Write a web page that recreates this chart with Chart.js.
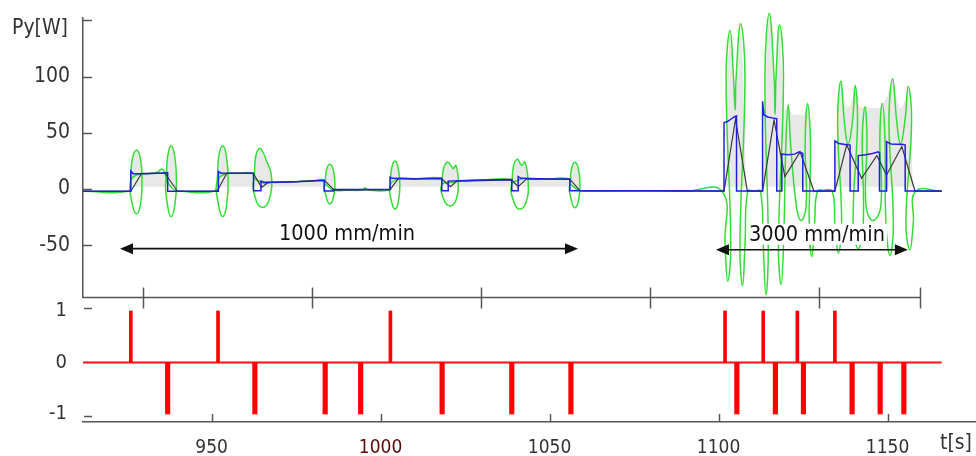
<!DOCTYPE html>
<html><head><meta charset="utf-8">
<script src="https://cdn.jsdelivr.net/npm/chart.js@4.4.0/dist/chart.umd.min.js"></script>
<style>
html,body{margin:0;padding:0;background:#fff;}
#wrap{position:relative;width:976px;height:456px;overflow:hidden;background:#fff;}
canvas{position:absolute;left:0;}
#cTop{top:0;z-index:2;}
#cBot{top:296px;z-index:1;}
</style></head><body>
<div id="wrap"><canvas id="cBot" width="976" height="160"></canvas><canvas id="cTop" width="976" height="312"></canvas></div>
<script>
// ---------- data (time in s, power in W) ----------
const bluePower = [
[911.95,-2],[926.1,-2],[926.1,16],[926.8,13.5],[930,13.5],[934,14],[937.0,14.5],[937.0,-2],
[952.0,-2],[952.0,15.5],[952.8,14],[962.4,14],[962.4,-1.5],[964.6,-1.5],[964.6,7],[965.5,6],[970,6],[975,6.5],[980,7],[983.3,7.5],[983.3,-1.8],[986.0,-1.8],[986.0,-0.5],
[1002.8,-0.5],[1002.8,10.5],[1003.5,9.5],[1010,9],[1018.1,9.5],[1018.1,-1.5],[1020.0,-1.5],[1020.0,7],[1025,7.5],[1030,8],[1038.8,8.5],[1038.8,-1.5],[1040.7,-1.5],[1040.7,11],[1041.5,9.5],[1050,9],[1056.0,9],[1056.0,-1.5],[1080,-1.5],
[1101.6,-1.8],[1101.6,59],[1102.6,60],[1103.6,62],[1104.6,64],[1105.3,65],[1105.3,-1.8],
[1113.0,-1.8],[1113.0,78],[1113.4,66],[1114.5,64],[1116.2,63],[1117.2,62.5],[1117.2,-1.8],[1118.7,-1.8],[1118.7,31],[1120.5,30.5],[1122.5,31],[1123.8,33],[1124.9,31.5],[1124.9,-1.8],
[1134.4,-1.8],[1134.4,42.7],[1135.5,40.5],[1137.5,39.5],[1138.9,39],[1138.9,-1.8],[1141.3,-1.8],[1141.3,29.7],[1143.5,30.5],[1145.5,31.5],[1147.3,33],[1147.6,32],[1147.6,-1.8],[1149.7,-1.8],[1149.7,42.1],[1151.0,40],[1154.7,39.5],[1155.2,39],[1155.2,-1.8],[1166.0,-1.8]
];
const blackPower = [
[911.95,-2],[926.1,-2],[929.3,14],[936.2,14],[939.9,-2],[951.6,-2],[954.5,14],[962.3,14],[964.8,1.5],[966.8,6],[975,6.5],[983.3,8],[986.3,-1],
[1002.8,-0.5],[1005.3,9.5],[1018.1,9],[1020.7,2],[1022.5,7],[1030,7.5],[1038.8,8],[1040.7,2],[1043.2,9],[1056.0,8.5],[1059.0,-1.5],
[1101.6,-1.8],[1105.0,62],[1108.5,-1.8],[1113.0,-1.8],[1116.4,61.4],[1119.6,11],[1124.1,33],[1128.2,-1.8],
[1134.4,-1.8],[1137.9,39.2],[1142.3,9.5],[1146.8,29.7],[1149.7,12.5],[1154.2,37.7],[1158.1,-1.8],[1166.0,-1.8]
];
const greenPower = [
[911.95,-2],[925.3,-2],
[926.0,7],[926.5,26],[927.8,34.7],[929.0,26],[929.4,7],[929.0,-13],[927.8,-22],[926.5,-13],[926.0,7],[928.3,13],[931,13.5],[934,15],[935.2,17.5],[936.2,14.5],
[936.5,7],[937.0,29],[938.0,38.5],[939.1,29],[939.6,7],[939.1,-15],[938.0,-24.5],[937.0,-15],[936.5,7],[938.6,0],[940.6,-2],[950.6,-2],
[951.6,7],[952.1,29],[953.3,38.5],[954.4,29],[954.9,7],[954.4,-15],[953.3,-24.5],[952.1,-15],[951.6,7],[954.4,13.5],[958,14],[962.0,14],
[962.5,8],[963.0,28],[964.1,36.1],[965.3,32],[966.3,24.3],[967.5,15.4],[967.8,2],[966.8,-11.3],[965.3,-16.3],[963.3,-11.3],[962.5,8],[965.5,5],[967.5,5.5],[970,6],[975,6.5],[980,7.5],[983.2,8],
[983.5,4],[984.0,17],[985.0,22],[986.0,17],[986.5,4],[986.0,-8],[985.0,-13.3],[984.0,-8],[983.5,4],[986.0,-1],[990,-1],[994.5,-1],[995.4,0.8],[996.3,-1],[1002.4,-1],
[1002.8,3.5],[1003.3,19],[1004.3,25],[1005.2,19],[1005.7,3.5],[1005.2,-12],[1004.3,-17.8],[1003.3,-12],[1002.8,3.5],[1005.3,9],[1010,9],[1017.8,9.5],
[1018.1,4],[1018.6,18],[1019.8,23.7],[1021.0,20],[1021.5,18],[1022.3,21],[1023.0,5],[1022.3,-10],[1020.6,-15],[1018.8,-10],[1018.1,4],[1021.5,6],[1023.8,7],[1030,8],[1038.5,8.5],
[1038.8,4],[1039.3,20],[1040.5,26.4],[1041.7,21],[1042.7,24],[1043.7,4],[1043.0,-12],[1041.2,-18],[1039.5,-12],[1038.8,4],[1042.0,9],[1044.5,9],[1050,9],[1055.7,9],
[1056.0,3.5],[1056.5,18],[1057.5,23.7],[1058.5,18],[1059.0,3.5],[1058.5,-11],[1057.5,-16.6],[1056.5,-11],[1056.0,3.5],[1058.5,-1],[1060.6,-2],[1080,-1.5],[1090,-2],[1101.0,-2],
[1101.9,-50],[1102.7,-82],[1103.6,-50],[1102.2,100],[1103.4,141],[1104.4,100],[1104.9,70],[1105.2,100],[1106.5,147],[1107.8,100],[1106.3,-50],[1107.1,-86],[1107.8,-50],[1108.6,-2],[1110.5,-2],
[1112.4,-2],[1113.2,-50],[1114.0,-94],[1114.7,-50],[1113.7,100],[1115.0,156],[1116.4,100],[1116.7,66],[1117.0,100],[1118.0,146],[1119.2,100],[1117.7,-50],[1118.5,-85],[1119.2,-50],[1119.9,40],[1120.6,75],[1121.3,40],[1123.0,-15],[1124.4,-28],[1125.9,-15],[1125.6,40],[1126.3,76],[1127.2,40],[1126.8,-30],[1127.6,-60],[1128.4,-30],[1129.2,-2],[1131,-1],
[1133.6,-2],[1134.4,-30],[1135.4,-57],[1136.4,-30],[1135.2,60],[1136.2,96],[1137.2,60],[1138.3,40],[1139.6,60],[1140.4,92],[1141.1,60],[1139.8,-30],[1141.3,-53],[1142.8,-30],[1142.5,45],[1143.3,73],[1143.9,45],[1143.6,-15],[1145.7,-28],[1148.0,-15],[1147.7,45],[1148.4,76],[1149.2,45],[1149.5,-30],[1150.7,-59],[1151.7,-30],[1150.4,60],[1151.5,98],[1152.7,60],[1153.8,40],[1155.1,60],[1156.1,91],[1157.1,60],[1155.4,-30],[1156.6,-54],[1157.6,-30],[1158.3,-2],[1166.0,-2]
];
const greyEnvelope = [
[911.95,2],[925.8,2],[926.3,22],[927.0,32],[927.8,34.5],[928.6,30],[929.3,15],[930.5,13.5],[935,15],[936.4,15],[937.2,32],[937.9,38.5],[938.7,32],[939.4,12],[939.9,2],
[951.6,2],[952.2,25],[953.3,38.5],[954.4,28],[955.2,13.5],[962.3,14],[963.1,30],[964.1,36.1],[965.3,30],[966.5,22],[967.4,15],[968.2,7],[975,6.5],[983.3,7.5],[984.1,18],[985.0,22],[985.9,16],[986.6,2],
[1002.7,2],[1003.4,18],[1004.3,25],[1005.2,18],[1005.9,9],[1018.0,9],[1018.8,20],[1019.8,23.7],[1021.0,19],[1022.2,21],[1023.1,7],[1030,7.5],[1038.7,8],[1039.6,20],[1040.6,26.4],[1041.7,21],[1042.7,24],[1043.8,9],[1055.9,8.5],[1056.7,18],[1057.5,23.7],[1058.4,16],[1059.2,2],
[1101.6,2],[1102.3,40],[1102.8,110],[1103.4,141],[1104.0,118],[1104.9,72],[1105.8,118],[1106.5,147],[1107.2,110],[1107.8,40],[1108.3,2],
[1112.9,2],[1113.5,50],[1114.2,125],[1115.0,156],[1115.8,125],[1116.7,70],[1117.4,125],[1118.0,146],[1118.7,105],[1119.5,70],[1120.6,75],[1121.4,68],[1122.5,66],[1124.5,66],[1125.5,68],[1126.3,76],[1127.0,52],[1127.8,2],
[1134.3,2],[1134.9,45],[1135.6,82],[1136.2,96],[1137.0,82],[1138.3,72],[1139.6,80],[1140.4,92],[1141.2,78],[1142.3,72],[1143.3,74],[1145.5,72],[1147.5,72],[1148.4,76],[1149.8,82],[1151.5,98],[1152.6,82],[1153.8,72],[1155.2,80],[1156.1,91],[1156.9,60],[1157.6,2],[1166.0,2]
];
const pulseUp = [926.1, 951.9, 1002.9, 1101.9, 1113.2, 1123.3, 1134.4];
const pulseDown = [937.0, 962.8, 983.6, 994.1, 1018.2, 1038.8, 1056.3, 1105.4, 1116.8, 1125.1, 1139.5, 1147.8, 1154.8];
const triggerSpan = [911.95, 1166.0];
const topYTicks = [150, 100, 50, 0, -50];
const topXTicks = [929.7, 979.7, 1029.7, 1079.7, 1129.7];
const topAxisEnd = 1159.6;
const bottomXTicks = [950, 1000, 1050, 1100, 1150];
const bottomYTicks = [1, 0, -1];
const arrowLabels = ['1000 mm/min', '3000 mm/min'];
const arrowStart = [922.9, 1099.2];
const arrowEnd = [1058.4, 1156.0];
const arrowLevel = [-53, -54];

// ---------- rendering ----------
const xMin = 911.95, xMax = 1176.15;
const FONT = "'DejaVu Sans Condensed','Liberation Sans Narrow','DejaVu Sans',sans-serif";
const AXIS = '#555';
const TXT = '#333';
const toXY = a => a.map(p => ({x: p[0], y: p[1]}));
const noPad = s => { s.paddingTop = 0; s.paddingBottom = 0; s.paddingLeft = 0; s.paddingRight = 0; };

function arrowHead(ctx, x, y, dir) {
  ctx.beginPath();
  ctx.moveTo(x, y);
  ctx.lineTo(x - dir * 13, y - 5.5);
  ctx.lineTo(x - dir * 13, y + 5.5);
  ctx.closePath();
  ctx.fill();
}

const topDecor = {
  id: 'topDecor',
  afterDraw(chart) {
    const {ctx, scales: {x, y}} = chart;
    ctx.save();
    ctx.strokeStyle = AXIS; ctx.lineWidth = 1.5;
    const yb = y.getPixelForValue(y.min) + 0.5;
    ctx.beginPath();
    ctx.moveTo(x.getPixelForValue(xMin), yb);
    ctx.lineTo(x.getPixelForValue(topAxisEnd), yb);
    ctx.stroke();
    topXTicks.concat([topAxisEnd]).forEach(v => {
      const px = Math.round(x.getPixelForValue(v)) + 0.5;
      ctx.beginPath(); ctx.moveTo(px, yb - 10); ctx.lineTo(px, yb + 11); ctx.stroke();
    });
    topYTicks.forEach(v => {
      const py = Math.round(y.getPixelForValue(v)) + 0.5;
      ctx.beginPath(); ctx.moveTo(x.left, py); ctx.lineTo(x.left + 9, py); ctx.stroke();
    });
    ctx.fillStyle = TXT;
    ctx.font = '21px ' + FONT;
    ctx.textAlign = 'left'; ctx.textBaseline = 'alphabetic';
    ctx.fillText('Py[W]', 12, 34);
    ctx.font = '21.5px ' + FONT;
    ctx.textAlign = 'center';
    arrowLabels.forEach((lab, i) => {
      const x1 = x.getPixelForValue(arrowStart[i]);
      const x2 = x.getPixelForValue(arrowEnd[i]);
      const py = y.getPixelForValue(arrowLevel[i]);
      const cx = (x1 + x2) / 2 + (i === 1 ? 5 : -2);
      const base = py - 9;
      if (i === 1) {
        const w = ctx.measureText(lab).width;
        ctx.fillStyle = '#fff';
        ctx.fillRect(cx - w / 2 - 2, base - 17, w + 4, 21);
      }
      ctx.fillStyle = '#111';
      ctx.fillText(lab, cx, base);
      ctx.strokeStyle = '#111'; ctx.lineWidth = 1.6;
      ctx.beginPath(); ctx.moveTo(x1 + 6, py); ctx.lineTo(x2 - 6, py); ctx.stroke();
      arrowHead(ctx, x1, py, -1);
      arrowHead(ctx, x2, py, 1);
    });
    ctx.restore();
  }
};

const botDecor = {
  id: 'botDecor',
  afterDraw(chart) {
    const {ctx, scales: {x, y}} = chart;
    ctx.save();
    ctx.strokeStyle = AXIS; ctx.lineWidth = 1.5;
    const yb = x.top;
    bottomXTicks.forEach(v => {
      const px = Math.round(x.getPixelForValue(v)) + 0.5;
      ctx.beginPath(); ctx.moveTo(px, yb); ctx.lineTo(px, yb - 8); ctx.stroke();
    });
    [1, -1].forEach(v => {
      const py = Math.round(y.getPixelForValue(v)) + 0.5 + (v > 0 ? -3 : 2);
      ctx.beginPath(); ctx.moveTo(x.left + 1, py); ctx.lineTo(x.left + 9, py); ctx.stroke();
    });
    ctx.fillStyle = TXT;
    ctx.font = '21px ' + FONT;
    ctx.textAlign = 'left'; ctx.textBaseline = 'alphabetic';
    ctx.fillText('t[s]', 940, 153);
    ctx.restore();
  }
};

new Chart(document.getElementById('cTop'), {
  type: 'line',
  data: {datasets: [
    {data: toXY(bluePower), borderColor: '#1f1fdc', borderWidth: 1.5, tension: 0, pointRadius: 0, fill: false, order: 1},
    {data: toXY(blackPower), borderColor: '#3a3a3a', borderWidth: 1.2, tension: 0, pointRadius: 0, fill: false, order: 2},
    {data: toXY(greenPower), borderColor: '#33dd33', borderWidth: 1.5, tension: 0.45, pointRadius: 0, fill: false, order: 3,
     clip: {left: 0, top: 20, right: 0, bottom: 2}},
    {data: toXY(greyEnvelope), borderColor: 'rgba(0,0,0,0)', borderWidth: 0, backgroundColor: '#e8e8e8',
     fill: {value: 2}, cubicInterpolationMode: 'monotone', pointRadius: 0, order: 4, clip: {left: 0, top: 20, right: 0, bottom: 0}}
  ]},
  options: {
    responsive: false, animation: false, devicePixelRatio: 1,
    elements: {line: {capBezierPoints: false}},
    layout: {padding: {top: 18, left: 0, right: 0, bottom: 0}},
    plugins: {legend: {display: false}, tooltip: {enabled: false}},
    scales: {
      x: {type: 'linear', min: xMin, max: xMax, grid: {display: false, drawTicks: false},
          border: {display: false}, ticks: {display: false}, afterFit: s => { s.height = 15; noPad(s); }},
      y: {min: -96, max: 152, grid: {display: false, drawTicks: false},
          border: {display: true, color: AXIS, width: 1.5},
          afterBuildTicks: s => { s.ticks = topYTicks.map(v => ({value: v})); },
          ticks: {padding: 13, color: TXT, font: {family: FONT, size: 21},
                  callback: v => (v === 150 ? '' : String(v))},
          afterFit: s => { s.width = 83; noPad(s); }}
    }
  },
  plugins: [topDecor]
});

new Chart(document.getElementById('cBot'), {
  type: 'bar',
  data: {datasets: [
    {type: 'line', data: triggerSpan.map(t => ({x: t, y: 0})), borderColor: '#ff1010', borderWidth: 2,
     pointRadius: 0, order: 2},
    {type: 'bar', data: pulseUp.map(t => ({x: t, y: 1})), backgroundColor: '#ff0000', borderWidth: 0,
     barThickness: 3, grouped: false, order: 1},
    {type: 'bar', data: pulseDown.map(t => ({x: t, y: -1})), backgroundColor: '#ff0000', borderWidth: 0,
     barThickness: 4.5, grouped: false, order: 1}
  ]},
  options: {
    responsive: false, animation: false, devicePixelRatio: 1,
    layout: {padding: {top: 4, left: 0, right: 0, bottom: 0}},
    plugins: {legend: {display: false}, tooltip: {enabled: false}},
    scales: {
      x: {type: 'linear', min: xMin, max: xMax, offset: false, grid: {display: false, drawTicks: false},
          border: {display: true, color: AXIS, width: 1.5},
          afterBuildTicks: s => { s.ticks = bottomXTicks.map(v => ({value: v})); },
          ticks: {padding: 15, autoSkip: false, maxRotation: 0, font: {family: FONT, size: 19},
                  callback: v => String(v),
                  color: c => (c.tick && c.tick.value === 1000 ? '#5c0b0b' : TXT)},
          afterFit: s => { s.height = 34; noPad(s); }},
      y: {min: -1.155, max: 1.214, grid: {display: false, drawTicks: false}, border: {display: false},
          afterBuildTicks: s => { s.ticks = bottomYTicks.map(v => ({value: v})); },
          ticks: {padding: 16, color: TXT, font: {family: FONT, size: 20}},
          afterFit: s => { s.width = 83; noPad(s); }}
    }
  },
  plugins: [botDecor]
});
</script>
</body></html>
